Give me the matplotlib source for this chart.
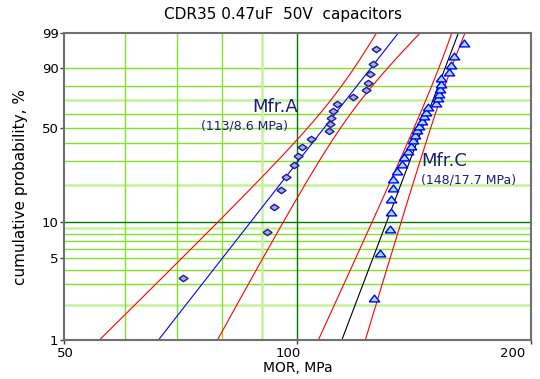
"""
Weibull plot of MOR for CDR35 capacitors, two manufacturers
"""
import numpy as np
import matplotlib.pyplot as plt
from matplotlib.ticker import FixedLocator, FixedFormatter, NullLocator
from matplotlib.transforms import ScaledTranslation

# Mfr.A strengths (MPa) and plotted cumulative probability (%)
mor_a = [71.1, 91.4, 93.3, 95.4, 96.8, 99.0, 100.2, 101.3, 104.0, 109.7,
         110.3, 110.4, 111.2, 112.4, 118.1, 122.5, 123.4, 124.1, 125.2, 126.2]
prob_a = [3.43, 8.33, 13.24, 18.14, 23.04, 27.94, 32.84, 37.75, 42.65, 47.55,
          52.45, 57.35, 62.25, 67.16, 72.06, 76.96, 81.86, 86.76, 91.67, 96.57]

# Mfr.C strengths (MPa) and plotted cumulative probability (%)
mor_c = [125.7, 127.7, 131.7, 132.2, 132.2, 132.7, 132.8, 134.6, 136.4, 137.3,
         139.0, 140.2, 140.8, 141.9, 142.5, 143.6, 144.6, 145.5, 146.6, 147.2,
         151.1, 151.8, 152.3, 152.8, 153.0, 153.4, 157.0, 157.9, 159.2, 164.1]
prob_c = [2.30, 5.59, 8.88, 12.17, 15.46, 18.75, 22.04, 25.33, 28.62, 31.91,
          35.20, 38.49, 41.78, 45.07, 48.36, 51.64, 54.93, 58.22, 61.51, 64.80,
          68.09, 71.38, 74.67, 77.96, 81.25, 84.54, 87.83, 91.12, 94.41, 97.70]

# Weibull fits: scale (MPa), modulus
eta_a, m_a = 113, 8.6
eta_c, m_c = 148, 17.7

# confidence band half-width in ln(MOR): min width, slope, centre (Weibull y)
band_a = (0.0446, 0.0353, 0.2)
band_c = (0.0185, 0.0120, 1.0)

y_ticks = [1, 5, 10, 50, 90, 99]
x_ticks = [50, 100, 200]
h_grid = [2, 3, 4, 5, 6, 7, 8, 9, 20, 30, 40, 50, 60, 70, 80, 90]
h_grid_pale = [2, 9, 20, 70]
v_grid = [60, 70, 80, 90]
v_grid_pale = [90]


def weib(p):
    p = np.clip(np.asarray(p, dtype=float), 1e-6, 100 - 1e-6)
    return np.log(-np.log(1 - p / 100))


def weib_inv(y):
    return 100 * (1 - np.exp(-np.exp(np.asarray(y, dtype=float))))


def fit_curves(eta, m, band):
    yy = np.linspace(weib(0.5), weib(99.5), 300)
    lnx = np.log(eta) + yy / m
    w = np.sqrt(band[0] ** 2 + band[1] ** 2 * (yy - band[2]) ** 2)
    p = weib_inv(yy)
    return p, np.exp(lnx), np.exp(lnx - w), np.exp(lnx + w)


fig = plt.figure(figsize=(5.4, 3.79), dpi=100)
ax = fig.add_axes([0.1185, 0.1029, 0.8643, 0.81])
ax.set_xscale('log')
ax.set_yscale('function', functions=(weib, weib_inv))
ax.set_xlim(50, 200)
ax.set_ylim(1, 99)

# grid
for p in h_grid:
    if p in h_grid_pale:
        ax.axhline(p, color='#c4f29c', lw=1.8, zorder=1)
    else:
        ax.axhline(p, color='#84e22a', lw=1.0, zorder=1)
for v in v_grid:
    if v in v_grid_pale:
        ax.axvline(v, color='#c4f29c', lw=1.8, zorder=1)
    else:
        ax.axvline(v, color='#84e22a', lw=1.0, zorder=1)
ax.axhline(10, color='#007800', lw=1.0, zorder=1.5)
ax.axvline(100, color='#007800', lw=1.0, zorder=1.5)

# fits and bands
p, x, lo, hi = fit_curves(eta_a, m_a, band_a)
ax.plot(x, p, color='#0000ff', lw=0.8, zorder=2)
ax.plot(lo, p, color='#ff0000', lw=0.8, zorder=2)
ax.plot(hi, p, color='#ff0000', lw=0.8, zorder=2)

p, x, lo, hi = fit_curves(eta_c, m_c, band_c)
ax.plot(x, p, color='#000000', lw=0.8, zorder=2)
ax.plot(lo, p, color='#ff0000', lw=0.8, zorder=2)
ax.plot(hi, p, color='#ff0000', lw=0.8, zorder=2)

# data points
diamond = [(-1, 0), (0, 0.7), (1, 0), (0, -0.7), (-1, 0)]
tri = [(-1, -0.65), (1, -0.65), (0, 0.65), (-1, -0.65)]
ax.plot(mor_a, prob_a, ls='none', marker=diamond, ms=6.5, mfc='#a9a9ee',
        mec='#1c1c8c', mew=1.0, zorder=3)
ax.plot(mor_c, prob_c, ls='none', marker=tri, ms=7.5, mfc='#9fdcff',
        mec='#0000ff', mew=1.0, zorder=3)

# labels on plot
lab = dict(color='#1c1c80', va='center', ha='left')
fig.text(0.468, 0.718, 'Mfr.A', fontsize=13, **lab)
fig.text(0.372, 0.668, '(113/8.6 MPa)', fontsize=9, **lab)
fig.text(0.781, 0.576, 'Mfr.C', fontsize=13, **lab)
fig.text(0.779, 0.525, '(148/17.7 MPa)', fontsize=9, **lab)

# axes styling
for s in ax.spines.values():
    s.set_color('#707070')
    s.set_linewidth(1.5)
ax.yaxis.set_major_locator(FixedLocator(y_ticks))
ax.yaxis.set_major_formatter(FixedFormatter([str(t) for t in y_ticks]))
ax.yaxis.set_minor_locator(NullLocator())
ax.xaxis.set_major_locator(FixedLocator(x_ticks))
ax.xaxis.set_major_formatter(FixedFormatter([str(t) for t in x_ticks]))
ax.xaxis.set_minor_locator(NullLocator())
ax.tick_params(length=3, width=1, color='#404040', labelsize=9.5, pad=1)
ax.tick_params(axis='x', pad=2)

# x tick labels sit a little left of their ticks in the original
for lbl, dx in zip(ax.get_xticklabels(), [1, -9, -18]):
    lbl.set_transform(lbl.get_transform()
                      + ScaledTranslation(dx / 100, 0, fig.dpi_scale_trans))

fig.text(0.524, 0.962, 'CDR35 0.47uF  50V  capacitors', fontsize=11,
         ha='center', va='center')
ax.set_xlabel('MOR, MPa', fontsize=10, labelpad=1)
ax.set_ylabel('cumulative probability, %', fontsize=11, labelpad=10)

fig.savefig('out.png', dpi=100)
